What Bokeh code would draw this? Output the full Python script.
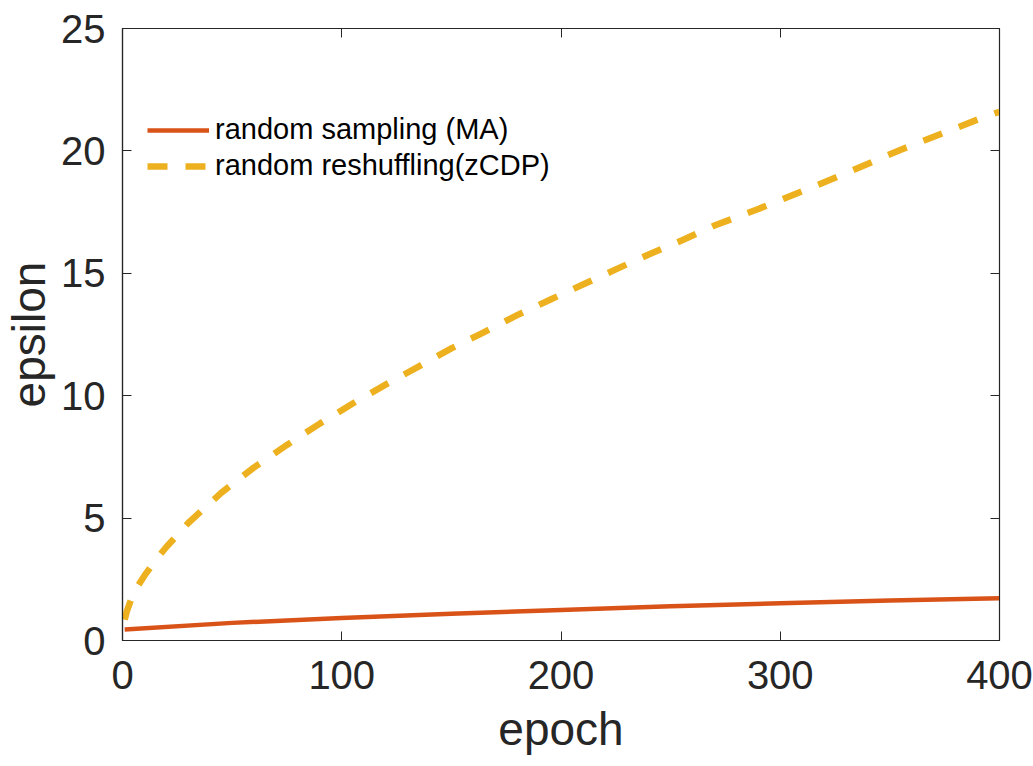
from bokeh.plotting import figure
from bokeh.models import LinearAxis, Range1d, Legend, LegendItem, FixedTicker
from bokeh.embed import file_html
from bokeh.resources import INLINE

# data
epochs_ma = [1, 50, 100, 150, 200, 250, 300, 350, 400]
eps_ma = [0.45, 0.72, 0.92, 1.09, 1.25, 1.4, 1.52, 1.63, 1.73]

epochs_zcdp = [1, 2, 5, 10, 15, 20, 30, 45, 60, 75, 90, 105, 120, 135, 150, 165, 180,
               195, 210, 225, 240, 255, 270, 290, 325, 355, 390, 400]
eps_zcdp = [0.85, 1.2, 1.95, 2.65, 3.27, 3.82, 4.8, 6.03, 7.07, 7.99, 8.86, 9.68, 10.45,
            11.19, 11.93, 12.6, 13.29, 13.92, 14.54, 15.16, 15.77, 16.34, 16.95,
            17.63, 18.9, 20.05, 21.28, 21.6]

x_ticks = [0, 100, 200, 300, 400]
y_ticks = [0, 5, 10, 15, 20, 25]

FONT = "Liberation Sans"
AXC = "#262626"

p = figure(width=1033, height=766, output_backend="svg", toolbar_location=None,
           x_range=Range1d(0, 400), y_range=Range1d(0, 25),
           min_border_left=122, min_border_right=34, min_border_top=28, min_border_bottom=126)
p.xgrid.visible = False
p.ygrid.visible = False
p.outline_line_color = AXC
p.outline_line_width = 1.2

r1 = p.line(epochs_ma, eps_ma, line_color="#D95319", line_width=4.5)
r2 = p.line(epochs_zcdp, eps_zcdp, line_color="#EDB120", line_width=6.5,
            line_dash="20 18", line_cap="butt", line_join="round")

for ax in p.xaxis + p.yaxis:
    ax.major_label_text_font = FONT
    ax.major_label_text_font_size = "40px"
    ax.major_label_text_color = AXC
    ax.axis_line_color = AXC
    ax.axis_line_width = 1.2
    ax.major_tick_line_color = AXC
    ax.major_tick_in = 9
    ax.major_tick_out = 0
    ax.minor_tick_in = 0
    ax.minor_tick_out = 0
    ax.axis_label_text_font = FONT
    ax.axis_label_text_font_size = "46px"
    ax.axis_label_text_font_style = "normal"
    ax.axis_label_text_color = AXC

p.xaxis.ticker = FixedTicker(ticks=x_ticks)
p.yaxis.ticker = FixedTicker(ticks=y_ticks)
p.xaxis.axis_label = "epoch"
p.yaxis.axis_label = "epsilon"
p.xaxis.major_label_standoff = 20
p.yaxis.major_label_standoff = 17
p.xaxis.axis_label_standoff = 11
p.yaxis.axis_label_standoff = 3

ax_top = LinearAxis(ticker=FixedTicker(ticks=x_ticks),
                    major_label_overrides={t: "" for t in x_ticks},
                    major_tick_in=9, major_tick_out=0, minor_tick_in=0, minor_tick_out=0,
                    axis_line_color=AXC, major_tick_line_color=AXC)
ax_right = LinearAxis(ticker=FixedTicker(ticks=y_ticks),
                      major_label_overrides={t: "" for t in y_ticks},
                      major_tick_in=9, major_tick_out=0, minor_tick_in=0, minor_tick_out=0,
                      axis_line_color=AXC, major_tick_line_color=AXC)
p.add_layout(ax_top, "above")
p.add_layout(ax_right, "right")

legend = Legend(items=[LegendItem(label="random sampling (MA)", renderers=[r1]),
                       LegendItem(label="random reshuffling(zCDP)", renderers=[r2])],
                location=(25, 458), orientation="vertical",
                border_line_color=None, background_fill_alpha=0,
                label_text_font=FONT, label_text_font_size="29px", label_text_color="#000000",
                glyph_width=62, glyph_height=30, label_height=30, spacing=3,
                padding=0, margin=0, label_standoff=6)
p.add_layout(legend, "center")

open("out.html", "w").write(file_html(p, INLINE))
